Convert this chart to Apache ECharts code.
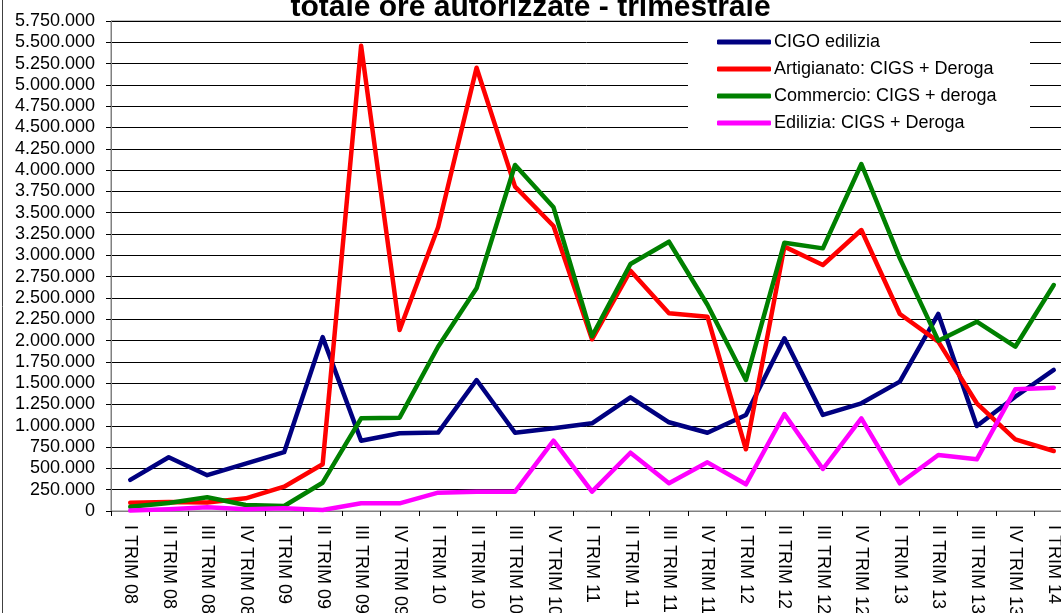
<!DOCTYPE html>
<html>
<head>
<meta charset="utf-8">
<script src="https://cdn.jsdelivr.net/npm/echarts@6/dist/echarts.min.js"></script>
<style>
  html, body { margin: 0; padding: 0; background: #fff; }
  #chart { width: 1061px; height: 613px; }
</style>
</head>
<body>
<div id="chart"></div>
<script>
// trimestri
var categories = [
    'I TRIM 08', 'II TRIM 08', 'III TRIM 08', 'IV TRIM 08',
    'I TRIM 09', 'II TRIM 09', 'III TRIM 09', 'IV TRIM 09',
    'I TRIM 10', 'II TRIM 10', 'III TRIM 10', 'IV TRIM 10',
    'I TRIM 11', 'II TRIM 11', 'III TRIM 11', 'IV TRIM 11',
    'I TRIM 12', 'II TRIM 12', 'III TRIM 12', 'IV TRIM 12',
    'I TRIM 13', 'II TRIM 13', 'III TRIM 13', 'IV TRIM 13',
    'I TRIM 14'
];

// ore autorizzate per serie
var cigoEdilizia = [
    365000, 630000, 420000, 555000, 690000, 2040000, 825000, 912000,
    920000, 1537000, 918000, 970000, 1029000, 1334000, 1041000, 918000,
    1127000, 2026000, 1127000, 1264000, 1518000, 2312000, 997000, 1341000,
    1655000
];
var artigianato = [
    98000, 105000, 100000, 149000, 285000, 548000, 5460000, 2124000,
    3329000, 5202000, 3806000, 3344000, 2015000, 2820000, 2320000, 2280000,
    724000, 3102000, 2887000, 3297000, 2312000, 1987000, 1264000, 841000,
    704000
];
var commercio = [
    50000, 95000, 161000, 70000, 59000, 332000, 1088000, 1095000,
    1928000, 2613000, 4060000, 3564000, 2050000, 2898000, 3160000, 2420000,
    1537000, 3149000, 3082000, 4072000, 2965000, 1999000, 2222000, 1928000,
    2652000
];
var edilizia = [
    5000, 20000, 43000, 20000, 31000, 12000, 90000, 90000,
    215000, 227000, 227000, 825000, 227000, 684000, 325000, 571000,
    313000, 1138000, 493000, 1088000, 325000, 657000, 606000, 1428000,
    1447000
];

var yTicks = { min: 0, max: 5750000, step: 250000 };

var font = 'Liberation Sans, Arial, sans-serif';

function formatIt(v) {
    return String(v).replace(/\B(?=(\d{3})+(?!\d))/g, '.');
}

function lineSeries(name, data, color) {
    return {
        name: name,
        type: 'line',
        data: data,
        symbol: 'none',
        color: color,
        lineStyle: { width: 4.5, color: color, cap: 'round', join: 'round' }
    };
}

var chart = echarts.init(document.getElementById('chart'));

var option = {
    animation: false,
    backgroundColor: '#fff',
    textStyle: { fontFamily: font },
    title: {
        text: 'totale ore autorizzate - trimestrale',
        left: 'center',
        top: -12,
        textStyle: { fontSize: 30, fontWeight: 'bold', color: '#000', fontFamily: font }
    },
    graphic: [
        {
            type: 'rect',
            z: 1,
            shape: { x: 688, y: 22, width: 342, height: 126 },
            style: { fill: '#fff' }
        },
        {
            type: 'line',
            z: 1,
            shape: { x1: 2.5, y1: 0, x2: 2.5, y2: 613 },
            style: { stroke: '#404040', lineWidth: 1 }
        }
    ],
    legend: {
        orient: 'vertical',
        left: 712,
        top: 28,
        itemWidth: 54,
        itemHeight: 5,
        itemGap: 9,
        icon: 'roundRect',
        textStyle: { fontSize: 18, color: '#000', fontFamily: font, padding: [0, 0, 0, -2] },
        data: ['CIGO edilizia', 'Artigianato: CIGS + Deroga', 'Commercio: CIGS + deroga', 'Edilizia: CIGS + Deroga']
    },
    grid: {
        left: 111,
        top: 21,
        right: -12,
        bottom: 102,
        outerBoundsMode: 'none',
        show: true,
        borderColor: '#808080',
        borderWidth: 1
    },
    xAxis: {
        type: 'category',
        data: categories,
        boundaryGap: true,
        axisLine: { lineStyle: { color: '#808080', width: 1 } },
        axisTick: { show: true, length: 5, lineStyle: { color: '#000' } },
        axisLabel: {
            interval: 0,
            rotate: -90,
            margin: 14,
            fontSize: 18,
            color: '#000',
            fontFamily: font
        },
        splitLine: { show: false }
    },
    yAxis: {
        type: 'value',
        min: yTicks.min,
        max: yTicks.max,
        interval: yTicks.step,
        axisLine: { show: true, lineStyle: { color: '#808080', width: 1 } },
        axisTick: { show: true, length: 5, lineStyle: { color: '#000' } },
        axisLabel: {
            margin: 16,
            fontSize: 18,
            color: '#000',
            fontFamily: font,
            formatter: formatIt
        },
        splitLine: { show: true, lineStyle: { color: '#000', width: 1 } }
    },
    series: [
        lineSeries('CIGO edilizia', cigoEdilizia, '#000080'),
        lineSeries('Artigianato: CIGS + Deroga', artigianato, '#ff0000'),
        lineSeries('Commercio: CIGS + deroga', commercio, '#008000'),
        lineSeries('Edilizia: CIGS + Deroga', edilizia, '#ff00ff')
    ]
};

chart.setOption(option);
</script>
</body>
</html>
